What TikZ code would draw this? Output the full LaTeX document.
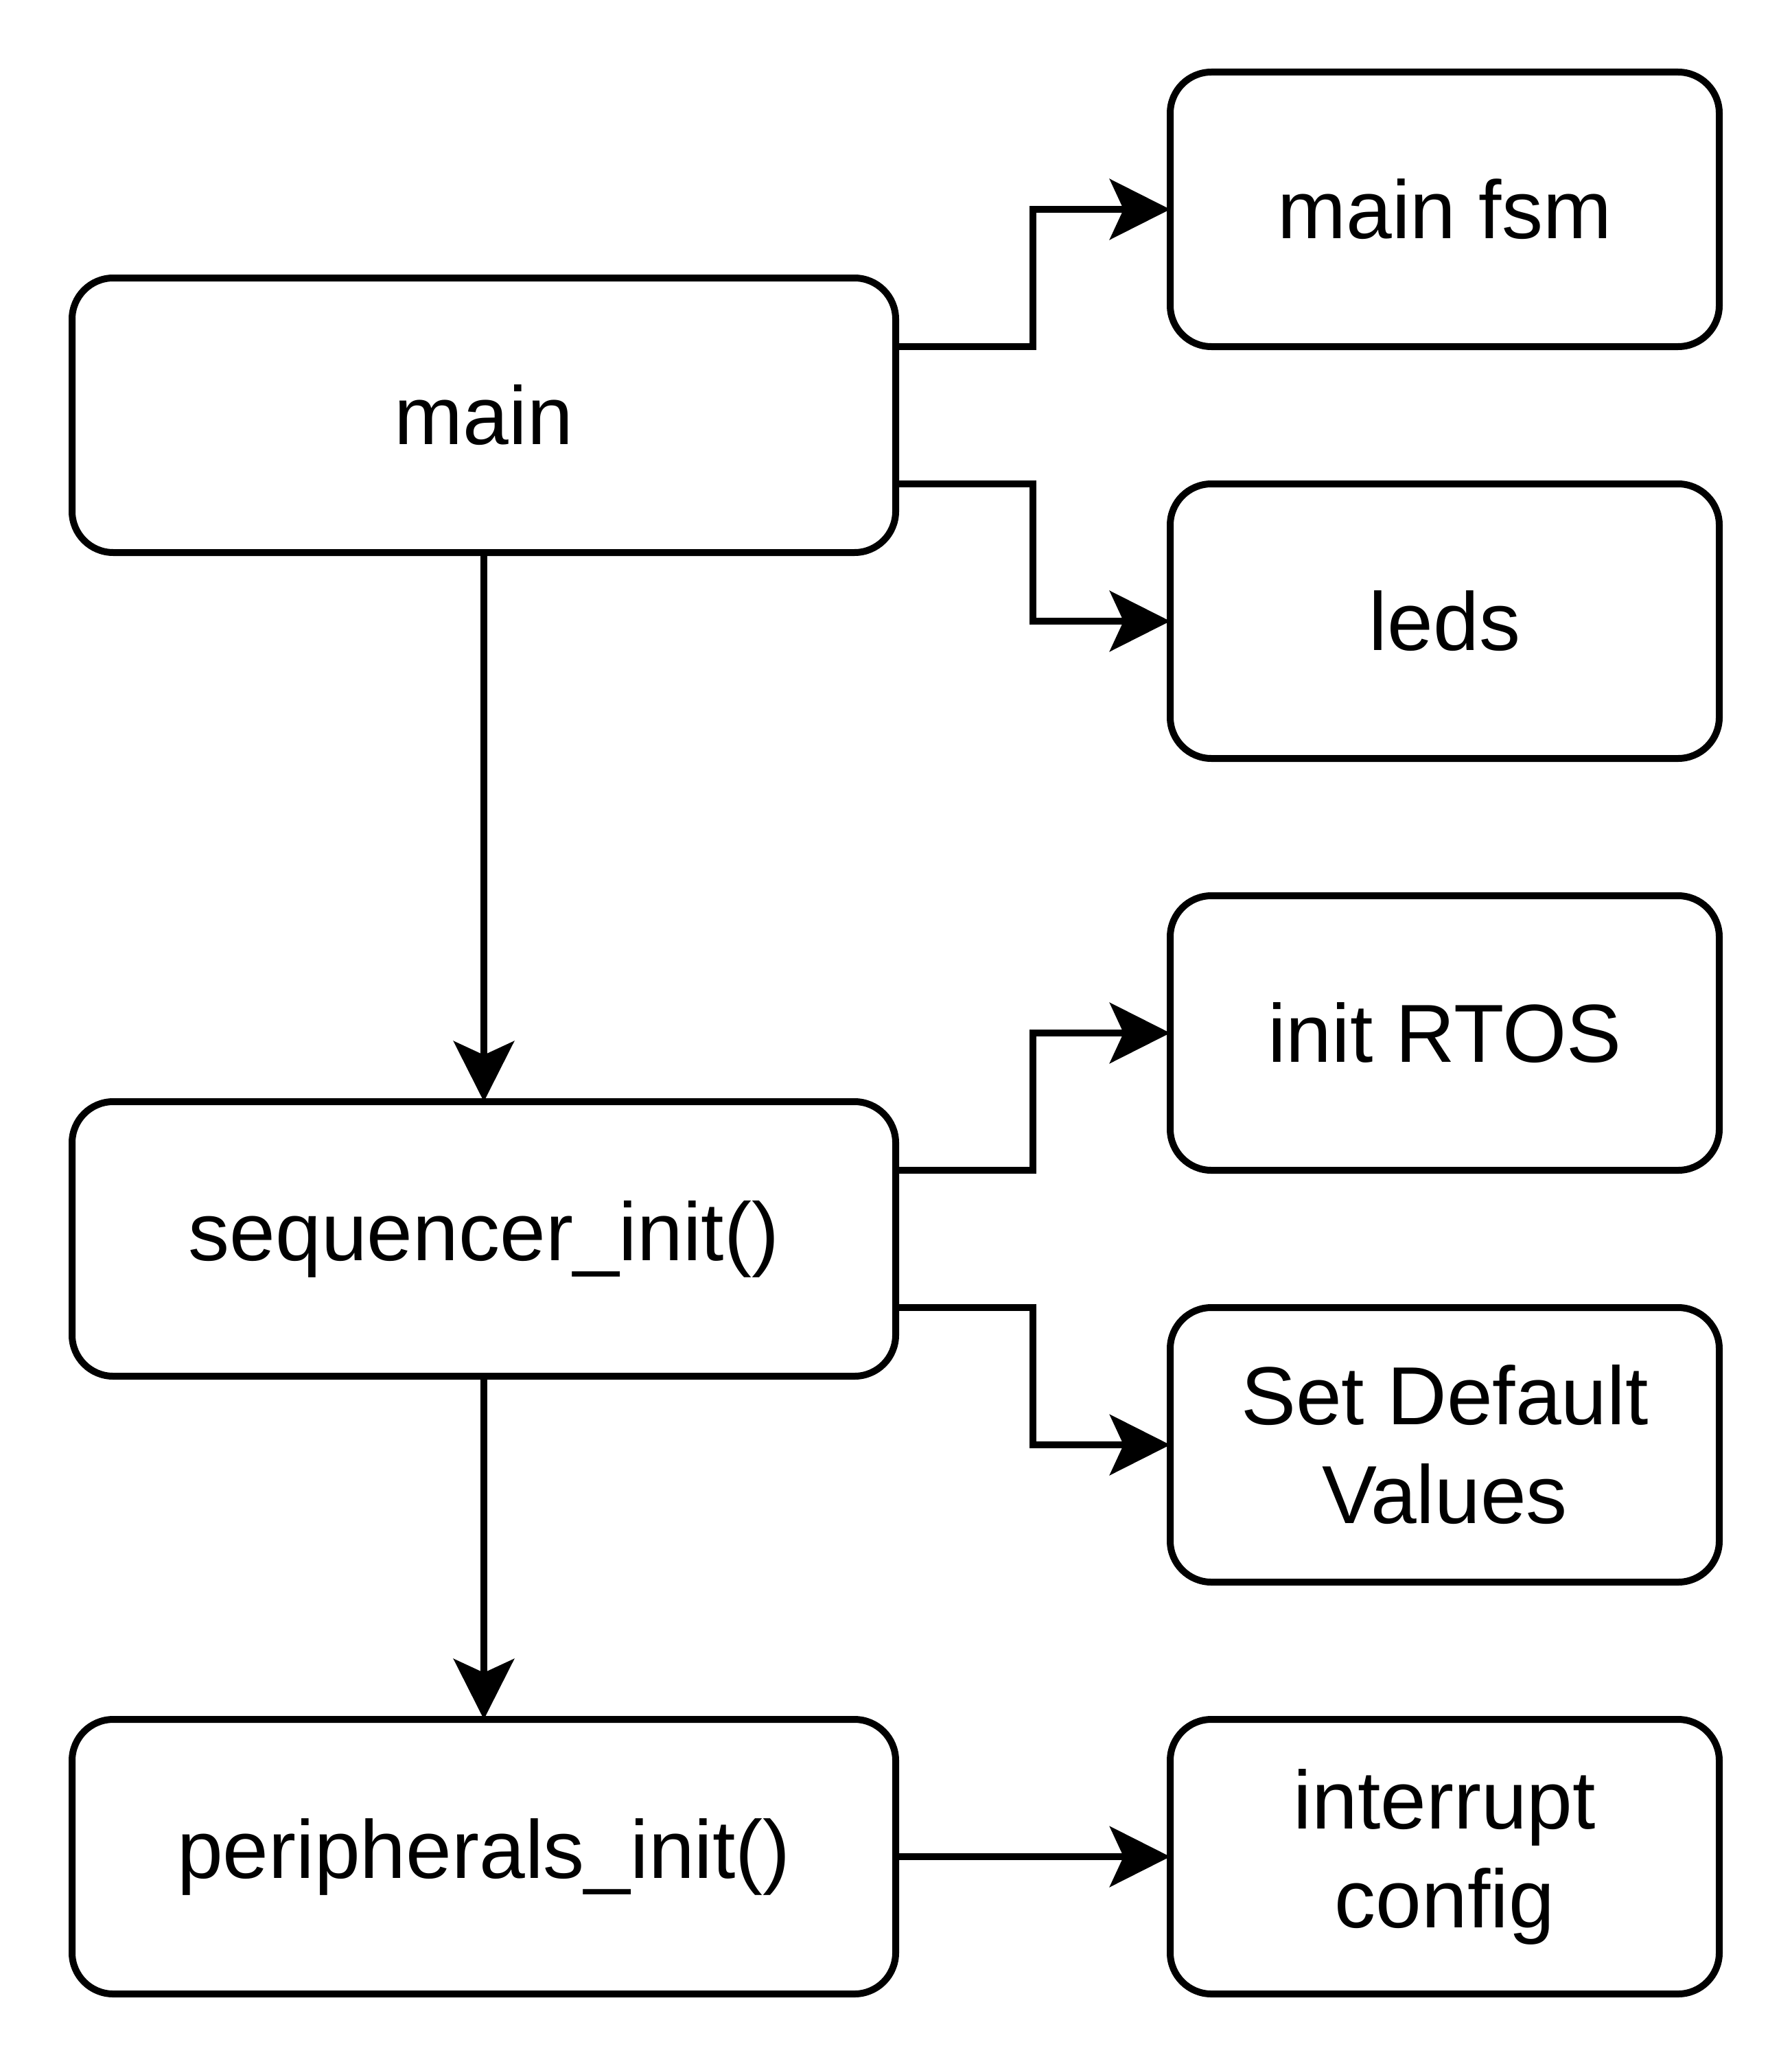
\documentclass[tikz,border=0pt]{standalone}
\usepackage{fontspec}
\setmainfont{Liberation Sans}
\usetikzlibrary{positioning}
\usetikzlibrary{arrows.meta}

\begin{document}
\begin{tikzpicture}
[x=1pt,y=1pt,
 func/.style={shape=rectangle,draw,line width=2pt,rounded corners=12pt,
   minimum width=240pt,minimum height=80pt,outer sep=0pt,align=center,
   font=\fontsize{24}{28.8}\selectfont},
 task/.style={func,minimum width=160pt},
 call/.style={line width=2pt,-{Stealth[length=17.6pt,width=17.6pt,inset=4pt]}}]

\useasboundingbox (0,0) rectangle (522,-602);

\node (main) [func] at (141,-121) {main};
\node (seq) [func] at (141,-361) {sequencer\_init()};
\node (periph) [func] at (141,-541) {peripherals\_init()};

\node (fsm) [task] at (421,-61) {main fsm};
\node (leds) [task] at (421,-181) {leds};
\node (rtos) [task] at (421,-301) {init RTOS};
\node (defaults) [task] at (421,-421) {Set Default\\Values};
\node (irq) [task] at (421,-541) {interrupt\\config};

\draw [call] (main) -- (seq);
\draw [call] (seq) -- (periph);

\draw [call] ([yshift=20pt]main.east) -- ++(40,0) |- (fsm);
\draw [call] ([yshift=-20pt]main.east) -- ++(40,0) |- (leds);

\draw [call] ([yshift=20pt]seq.east) -- ++(40,0) |- (rtos);
\draw [call] ([yshift=-20pt]seq.east) -- ++(40,0) |- (defaults);

\draw [call] (periph) -- (irq);

\end{tikzpicture}
\end{document}
